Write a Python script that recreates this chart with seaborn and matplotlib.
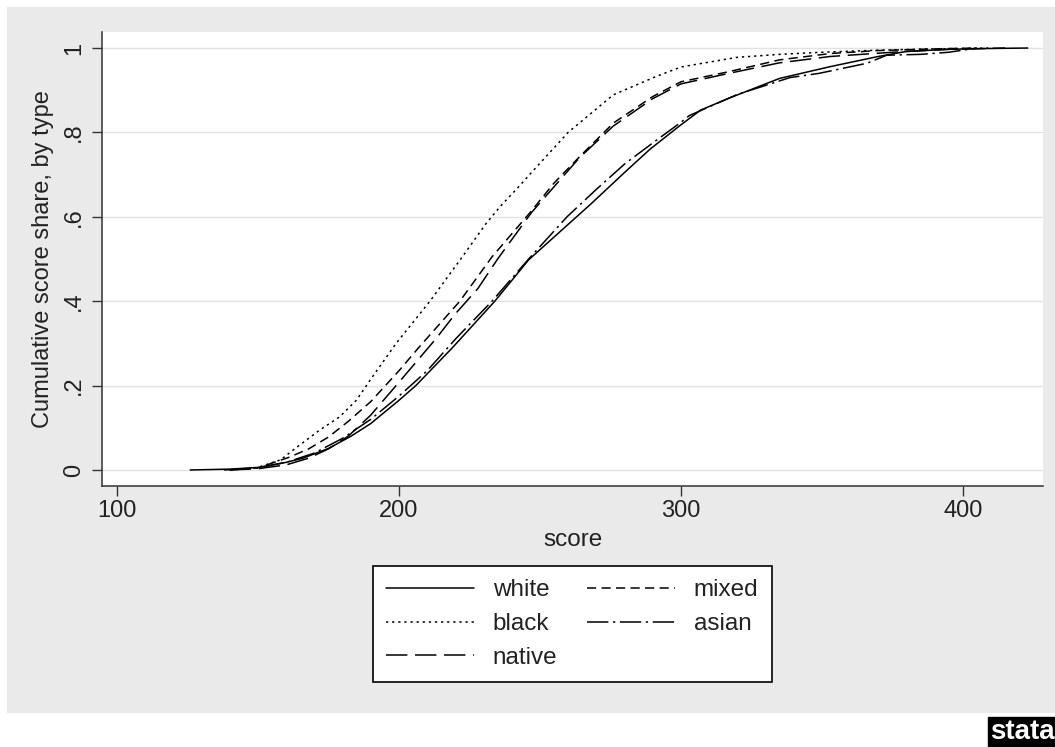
import numpy as np
import pandas as pd
import matplotlib
matplotlib.use("Agg")
import matplotlib.pyplot as plt
import seaborn as sns
from matplotlib.patches import Rectangle

# cumulative score share, one pair of lists per type
score_white = [126, 140, 150, 160, 166, 175, 183, 190, 200, 206, 219, 234, 246, 263, 268, 280, 289,
               300, 307, 317, 335, 353, 370, 380, 395, 410, 423]
share_white = [0, 0.002, 0.006, 0.018, 0.028, 0.051, 0.08, 0.11, 0.165, 0.2, 0.29, 0.4, 0.498, 0.6,
               0.63, 0.705, 0.76, 0.818, 0.853, 0.881, 0.928, 0.956, 0.98, 0.992, 0.997, 0.999, 1.0]

score_black = [140, 150, 158, 164, 172, 179, 185, 190, 199, 211, 223, 231, 236, 243, 247, 260, 276,
               291, 300, 306, 320, 335, 350, 370, 390, 410]
share_black = [0, 0.006, 0.024, 0.055, 0.095, 0.126, 0.166, 0.215, 0.30, 0.40, 0.51, 0.585, 0.625,
               0.675, 0.705, 0.80, 0.889, 0.932, 0.955, 0.962, 0.978, 0.985, 0.99, 0.995, 0.998, 1.0]

score_native = [140, 150, 160, 168, 175, 182, 190, 199, 213, 220, 228, 235, 247, 264, 276, 290, 300,
                317, 335, 353, 375, 395, 415]
share_native = [0, 0.003, 0.012, 0.028, 0.05, 0.08, 0.13, 0.2, 0.31, 0.37, 0.43, 0.5, 0.61, 0.74,
                0.815, 0.88, 0.915, 0.94, 0.965, 0.98, 0.99, 0.997, 1.0]

score_mixed = [138, 150, 161, 168, 175, 182, 190, 200, 207, 221.6, 233, 246.5, 255, 264, 276, 290,
               300, 317, 335, 353, 370, 390, 405]
share_mixed = [0, 0.005, 0.03, 0.05, 0.078, 0.115, 0.162, 0.235, 0.29, 0.40, 0.505, 0.61, 0.68, 0.742,
               0.822, 0.885, 0.92, 0.944, 0.972, 0.987, 0.994, 0.998, 1.0]

score_asian = [140, 150, 160, 170, 180, 190, 200, 210, 220, 233, 246, 259.6, 270, 280, 290, 299.6,
               303, 320, 338.7, 349, 366, 373, 385, 395, 405]
share_asian = [0, 0.005, 0.018, 0.04, 0.075, 0.12, 0.175, 0.235, 0.31, 0.40, 0.50, 0.6, 0.665, 0.725,
               0.775, 0.822, 0.84, 0.89, 0.93, 0.94, 0.964, 0.983, 0.985, 0.99, 1.0]

types = ["white", "black", "native", "mixed", "asian"]
yticks = [0, 0.2, 0.4, 0.6, 0.8, 1]
ytick_labels = ["0", ".2", ".4", ".6", ".8", "1"]
xticks = [100, 200, 300, 400]

#In[]
series = {
    "white": (score_white, share_white),
    "black": (score_black, share_black),
    "native": (score_native, share_native),
    "mixed": (score_mixed, share_mixed),
    "asian": (score_asian, share_asian),
}
df = pd.concat(
    [pd.DataFrame({"score": s, "share": f, "type": t}) for t, (s, f) in series.items()],
    ignore_index=True,
)

sns.set_style("white")
plt.rcParams["font.family"] = ["Liberation Sans", "DejaVu Sans"]
FS_TICK = 17
FS = 17.5

fig = plt.figure(figsize=(10.55, 7.47), dpi=100, facecolor="white")
# stata graph region (light gray)
fig.patches.append(Rectangle((0.0066, 0.0455), 1.0, 0.9451, transform=fig.transFigure,
                             facecolor="#EAEAEA", edgecolor="none", zorder=-10))
ax = fig.add_axes([102 / 1055, 1 - 486 / 747, (1043 - 102) / 1055, (486 - 32) / 747])
ax.set_facecolor("white")

dash_map = {"white": "", "black": (1.5, 2.5), "native": (14, 5), "mixed": (6, 3.5),
            "asian": (14, 3, 1.5, 3)}
sns.lineplot(data=df, x="score", y="share", hue="type", style="type", hue_order=types,
             style_order=types, palette={t: "black" for t in types}, dashes=dash_map,
             estimator=None, sort=False, linewidth=1.1, ax=ax)

ax.set_xlim(94.7, 428.4)
ax.set_ylim(-0.038, 1.038)
ax.set_yticks(yticks)
ax.set_yticklabels(ytick_labels, rotation=90, va="center")
ax.set_xticks(xticks)
ax.yaxis.grid(True, color="#E2E2E2", linewidth=1.0)
ax.set_axisbelow(True)
for side in ["top", "right"]:
    ax.spines[side].set_visible(False)
for side in ["left", "bottom"]:
    ax.spines[side].set_color("#333333")
    ax.spines[side].set_linewidth(1.1)
ax.tick_params(axis="both", direction="out", length=7, width=1.0, color="#333333",
               labelsize=FS_TICK, labelcolor="#222222", left=True, bottom=True)
ax.tick_params(axis="y", pad=5)
ax.tick_params(axis="x", pad=3)
ax.set_xlabel("score", fontsize=FS, color="#222222", labelpad=5)
ax.set_ylabel("Cumulative score share, by type", fontsize=17, color="#222222", labelpad=7)

handles, labels = ax.get_legend_handles_labels()
ax.get_legend().remove()
for h in handles:
    h.set_linewidth(1.1)
leg = fig.legend(handles, labels, loc="upper center", bbox_to_anchor=(572.5 / 1055, 1 - 566 / 747),
                 ncol=2, fontsize=FS, frameon=True, fancybox=False, framealpha=1.0,
                 handlelength=3.6, handletextpad=0.78, columnspacing=1.23, labelspacing=0.48,
                 borderpad=0.55, borderaxespad=0)
leg.get_frame().set_edgecolor("black")
leg.get_frame().set_linewidth(1.2)
leg.get_frame().set_facecolor("white")
for txt in leg.get_texts():
    txt.set_color("#222222")

# stata logo
fig.text(0.9995, 0.003, "stata", ha="right", va="bottom", color="white", fontsize=20,
         fontweight="bold", bbox=dict(facecolor="black", edgecolor="black", pad=1.5))

fig.savefig("out.png", dpi=100, facecolor=fig.get_facecolor())
